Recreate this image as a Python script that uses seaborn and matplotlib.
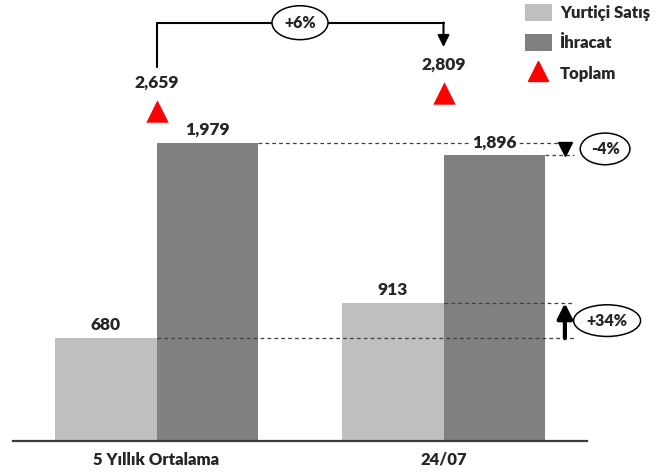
import matplotlib
matplotlib.use("Agg")
import matplotlib.pyplot as plt
import seaborn as sns
import pandas as pd
from matplotlib.patches import Patch
from matplotlib.lines import Line2D

categories = ["5 Yıllık Ortalama", "24/07"]
series_names = ["Yurtiçi Satış", "İhracat"]
yurtici = [680, 913]
ihracat = [1979, 1896]
toplam = [2659, 2809]
total_label = "Toplam"

colors = {"Yurtiçi Satış": "#BFBFBF", "İhracat": "#808080"}

sns.set_style("white")
plt.rcParams['font.family'] = ['Lato', 'DejaVu Sans']
W_ = "heavy"
plt.rcParams['font.weight'] = W_

df = pd.DataFrame({
    "cat": categories * 2,
    "series": [series_names[0]] * 2 + [series_names[1]] * 2,
    "val": yurtici + ihracat,
})

fig = plt.figure(figsize=(6.71, 4.73), dpi=100)
W, H = 671, 473
base_px = 440.5
top_px = 10
ax = fig.add_axes([13 / W, (H - base_px) / H, (587 - 13) / W, (base_px - top_px) / H])
sns.barplot(data=df, x="cat", y="val", hue="series", hue_order=series_names,
            order=categories, palette=colors, width=0.71, gap=0, saturation=1,
            linewidth=0, ax=ax, legend=False)
h_px = base_px - top_px
ax.set_ylim(0, h_px / 0.1505)
ax.set_xlim(-0.5, 1.5)
ax.set_xlabel("")
ax.set_ylabel("")
ax.set_yticks([])
for s in ["top", "right", "left"]:
    ax.spines[s].set_visible(False)
ax.spines["bottom"].set_color("#3a3a3a")
ax.spines["bottom"].set_linewidth(1.6)
ax.tick_params(axis="x", length=0, pad=8, labelsize=12)
for t in ax.get_xticklabels():
    t.set_fontweight(W_)

fs = 12.5
for i, cont in enumerate(ax.containers):
    labels = ax.bar_label(cont, fmt="{:,.0f}", padding=3.5, fontsize=fs, fontweight=W_)
    for lb in labels:
        lb.set_bbox(dict(facecolor="white", edgecolor="none", pad=1.5))
        lb.set_zorder(5)

bw = 0.355
x_end = 1.455
dash = dict(color="#404040", lw=0.9, linestyle=(0, (3, 2.5)), zorder=4)
ax.hlines(ihracat[0], bw, x_end, **dash)
ax.hlines(ihracat[1], 1 + bw, x_end, **dash)
ax.hlines(yurtici[0], 0, x_end, **dash)
ax.hlines(yurtici[1], 1, x_end, **dash)

x_arr = 1.423
ax.plot([x_arr], [(ihracat[0] + ihracat[1]) / 2], marker="v", color="black",
        markersize=10, clip_on=False, zorder=6)
ax.annotate("", xy=(x_arr, yurtici[1]), xytext=(x_arr, yurtici[0]),
            arrowprops=dict(arrowstyle="-|>,head_length=0.9,head_width=0.45",
                            color="black", lw=3, shrinkA=0, shrinkB=0), zorder=6)

ell = dict(boxstyle="ellipse,pad=0.2", facecolor="white", edgecolor="black", lw=1.1)
pct_exp = (ihracat[1] / ihracat[0] - 1) * 100
pct_dom = (yurtici[1] / yurtici[0] - 1) * 100
pct_tot = (toplam[1] / toplam[0] - 1) * 100
ax.text(1.563, (ihracat[0] + ihracat[1]) / 2, f"{pct_exp:+.0f}%", ha="center", va="center",
        fontsize=11.5, fontweight=W_, bbox=ell, clip_on=False)
ax.text(1.57, (yurtici[0] + yurtici[1]) / 2, f"{pct_dom:+.0f}%", ha="center", va="center",
        fontsize=11.5, fontweight=W_, bbox=ell, clip_on=False)

ax2 = ax.twinx()
ax2.set_ylim(0, h_px / 0.1238)
ax2.set_xlim(-0.5, 1.5)
sns.scatterplot(x=[0, 1], y=toplam, marker="^", color="red", s=260, linewidth=0,
                ax=ax2, legend=False, zorder=5)
ax2.set_yticks([])
for s in ["top", "right", "left", "bottom"]:
    ax2.spines[s].set_visible(False)
for x, v in zip([0, 1], toplam):
    ax2.annotate(f"{v:,}", xy=(x, v), xytext=(0, 20.5), textcoords="offset points",
                 ha="center", va="center", fontsize=fs, fontweight=W_)

def py(p):
    return (base_px - p) / 0.1238
y_top = py(22.7)
ax2.plot([0, 0, 1], [py(66.7), y_top, y_top], color="black", lw=1.5, clip_on=False)
ax2.annotate("", xy=(1, py(47)), xytext=(1, y_top),
             arrowprops=dict(arrowstyle="-|>,head_length=0.7,head_width=0.35",
                             color="black", lw=1.5, shrinkA=0, shrinkB=0))
ax2.text(0.5, y_top, f"{pct_tot:+.0f}%", ha="center", va="center", fontsize=11.5,
         fontweight=W_, bbox=dict(boxstyle="ellipse,pad=0.25", facecolor="white",
                                  edgecolor="black", lw=1.1), zorder=6)

handles = [Patch(facecolor=colors[series_names[0]], edgecolor="none"),
           Patch(facecolor=colors[series_names[1]], edgecolor="none"),
           Line2D([], [], marker="^", color="red", linestyle="none", markersize=15)]
fig.legend(handles, series_names + [total_label], loc="upper left",
           bbox_to_anchor=(525 / W, 1 - 4 / H), frameon=False,
           handlelength=1.6, handleheight=1.2, handletextpad=0.5,
           labelspacing=0.78, borderpad=0, borderaxespad=0,
           prop=dict(weight=W_, size=12))

fig.savefig("out.png", dpi=100)
